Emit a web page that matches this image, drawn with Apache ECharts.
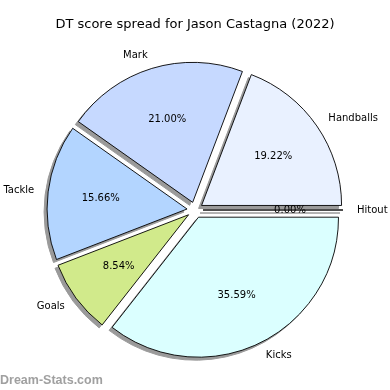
<!DOCTYPE html>
<html>
<head>
<meta charset="utf-8">
<script src="https://cdn.jsdelivr.net/npm/echarts@6/dist/echarts.min.js"></script>
<style>html,body{margin:0;padding:0;background:#fff}#c{width:390px;height:390px}</style>
</head>
<body>
<div id="c"></div>
<script>
const titleText = 'DT score spread for Jason Castagna (2022)';
const categories = ['Handballs', 'Mark', 'Tackle', 'Goals', 'Kicks', 'Hitout'];
const percentValues = [19.22, 21.00, 15.66, 8.54, 35.59, 0.00];
const sliceColors = ['#e9f1ff', '#c6d9ff', '#b3d5ff', '#d1ea8b', '#dbffff', '#e0e0ff'];
const watermark = 'Dream-Stats.com';

const FONT = 'DejaVu Sans';
const CX = 195, CY = 210, R = 140, OFF = 8;

function mkData(withColor) {
  return categories.map((name, i) => ({
    name: name,
    value: percentValues[i],
    selected: true,
    itemStyle: withColor ? { color: sliceColors[i] } : undefined
  }));
}

const common = {
  type: 'pie',
  center: [CX, CY],
  clockwise: false,
  startAngle: 0,
  selectedMode: 'multiple',
  selectedOffset: OFF,
  silent: true,
  avoidLabelOverlap: false,
  animation: false,
  emphasis: { disabled: true },
  minShowLabelAngle: 0
};

const chart = echarts.init(document.getElementById('c'), null, { renderer: 'canvas' });
chart.setOption({
  animation: false,
  title: {
    text: titleText,
    left: 'center',
    top: 18,
    padding: 0,
    textStyle: { fontFamily: FONT, fontSize: 13, fontWeight: 'normal', color: '#000' }
  },
  graphic: [{
    type: 'text',
    left: 0,
    top: 374,
    style: { text: watermark, fontFamily: 'Liberation Sans', fontSize: 12.5, fontWeight: 'bold', fill: '#a0a0a0' }
  }],
  series: [
    Object.assign({}, common, {
      name: 'shadow',
      center: [CX - 3, CY + 3],
      radius: [0, R],
      data: mkData(false),
      label: { show: false },
      labelLine: { show: false },
      itemStyle: { color: '#9a9a9a', borderColor: '#9a9a9a', borderWidth: 1 },
      z: 1
    }),
    Object.assign({}, common, {
      name: 'slices',
      radius: [0, R],
      data: mkData(true),
      label: { show: false },
      labelLine: { show: false },
      itemStyle: { borderColor: '#000', borderWidth: 0.9 },
      z: 2
    }),
    Object.assign({}, common, {
      name: 'pct',
      radius: [0, R * 1.2],
      data: mkData(false),
      itemStyle: { color: 'rgba(0,0,0,0)', borderWidth: 0 },
      label: {
        show: true,
        position: 'inside',
        formatter: p => p.value.toFixed(2) + '%',
        fontFamily: FONT, fontSize: 10, color: '#000'
      },
      labelLine: { show: false },
      z: 3
    }),
    Object.assign({}, common, {
      name: 'names',
      radius: [0, R * 1.1],
      data: mkData(false),
      itemStyle: { color: 'rgba(0,0,0,0)', borderWidth: 0 },
      label: {
        show: true,
        position: 'outside',
        formatter: '{b}',
        distanceToLabelLine: 0,
        fontFamily: FONT, fontSize: 10, color: '#000'
      },
      labelLine: { show: false, length: 0, length2: 0 },
      z: 3
    })
  ]
});
</script>
</body>
</html>
